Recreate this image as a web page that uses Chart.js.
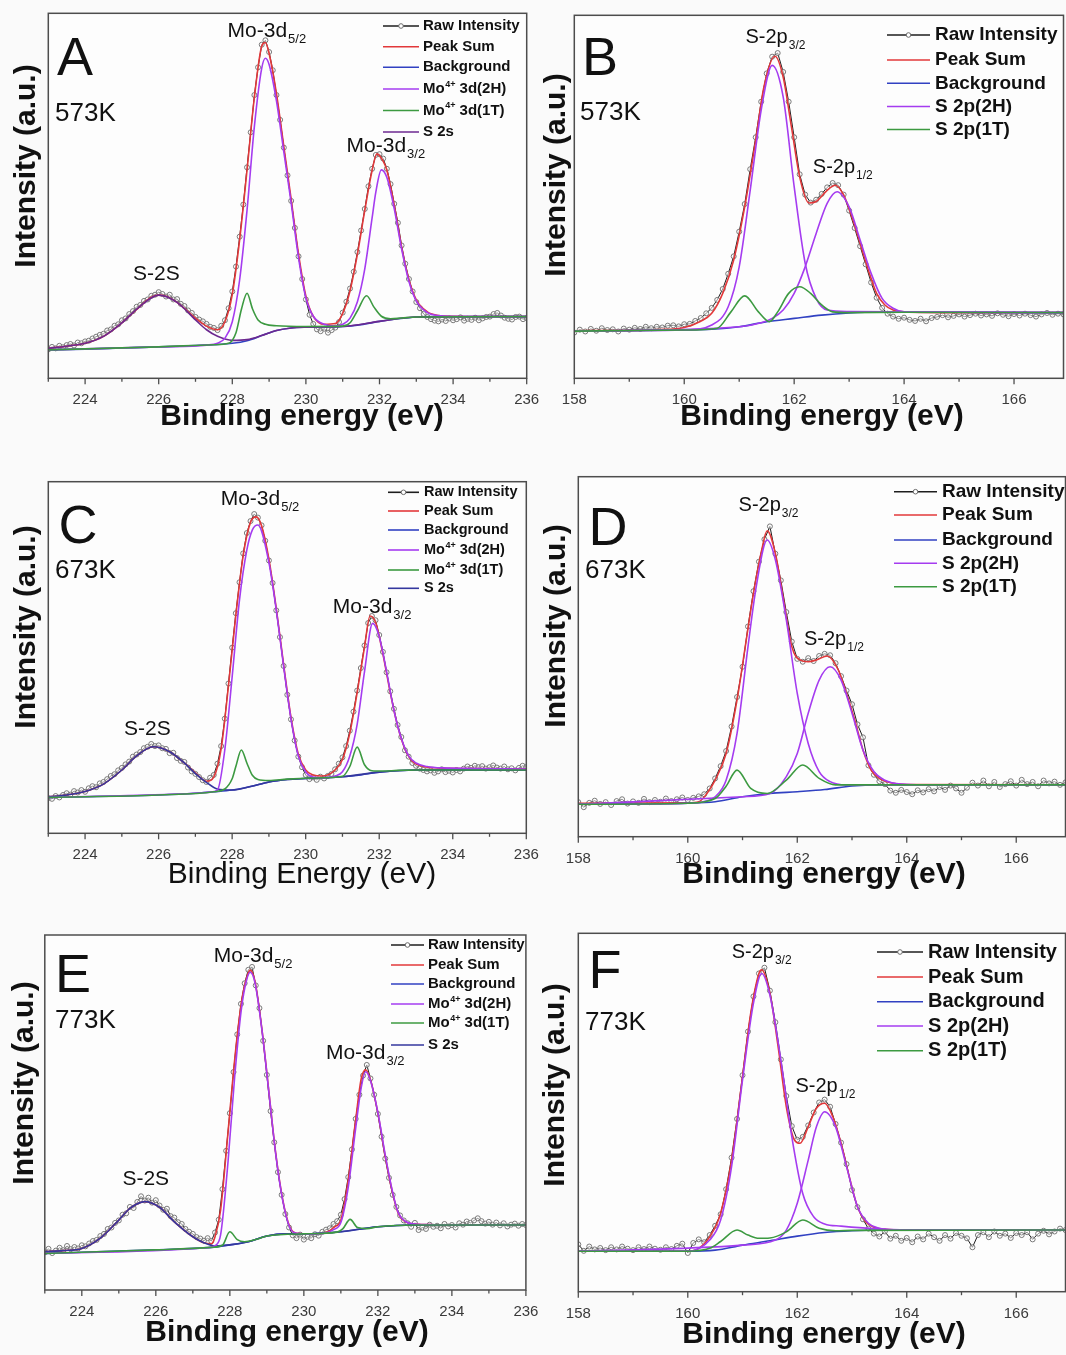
<!DOCTYPE html>
<html><head><meta charset="utf-8">
<script src="https://cdn.jsdelivr.net/npm/chart.js@4.4.1/dist/chart.umd.min.js"></script>
<style>
html,body{margin:0;padding:0;background:#fafafa;width:1066px;height:1355px;overflow:hidden;position:relative}
canvas{position:absolute}
</style></head><body>
<canvas id="cA"></canvas><canvas id="cB"></canvas><canvas id="cC"></canvas>
<canvas id="cD"></canvas><canvas id="cE"></canvas><canvas id="cF"></canvas>
<script>
// ===================== DATA (intensity in a.u., energy in eV) =====================
// ---- Panel A : Mo 3d, 573K ----
const rawStartA = 223, rawStepA = 0.1;
const rawA = [7.9,8.6,8.2,8.9,8.5,9.1,9.4,9.0,9.8,9.6,
 10.1,10.3,10.9,11.4,11.9,12.2,13.1,13.4,14.4,14.8,
 15.9,16.4,17.6,18.4,19.6,20.1,21.2,21.6,22.6,22.9,
 23.6,23.1,22.4,22.9,21.6,21.7,20.4,19.8,18.6,17.9,
 16.8,16.1,15.6,14.9,14.1,13.8,13.2,14.4,15.9,19.2,
 23.8,30.6,38.8,47.6,57.8,67.4,77.6,85.2,91.4,92.6,
 89.4,84.4,77.6,70.8,63.2,55.6,48.6,41.2,33.4,27.2,
 21.6,17.4,14.9,13.4,12.9,13.6,12.5,13.2,13.9,15.4,
 18.0,21.0,24.6,29.2,34.6,40.5,46.4,52.6,57.4,61.2,
 61.4,60.2,57.4,53.2,47.8,42.6,36.4,31.4,27.2,23.8,
 20.9,19.2,17.6,16.8,16.2,15.8,15.6,16.1,15.7,16.4,
 15.9,16.2,16.7,15.8,16.3,16.0,16.6,15.9,16.4,16.8,
 16.9,17.6,17.9,17.2,16.6,16.3,16.1,16.8,16.9,16.2,
 16.5];
const sumA = [[223,8.2],[223.5,8.8],[224,9.6],[224.5,11.5],[225,15.2],[225.5,19.8],[225.8,22.2],[226,22.8],[226.2,22.5],[226.5,20.8],[227,16.5],[227.3,14.3],[227.6,13.3],[227.8,15.5],[228,23],[228.2,38],[228.4,57],[228.6,77],[228.8,91],[228.9,92],[229,89],[229.2,78],[229.4,63.5],[229.6,49],[229.8,34],[230,22.5],[230.2,17],[230.5,14.8],[230.8,15],[231,17.8],[231.2,24],[231.4,34],[231.6,46],[231.8,57],[231.93,61.5],[232.1,59.5],[232.2,57],[232.4,47.5],[232.6,36],[232.8,27],[233,21.5],[233.3,18.2],[233.6,17.2],[234,17],[236,16.9]];
const bgA = [[223,7.8],[224,8.0],[225,8.3],[226,8.6],[227,9.0],[228,9.6],[228.4,10.3],[228.8,11.7],[229.2,13.1],[229.6,13.8],[230,14.0],[231,14.2],[231.5,14.7],[232,15.6],[232.5,16.3],[233,16.8],[233.5,16.9],[236,16.9]];
const h2A = [[223,7.8],[226,8.6],[227.3,9.1],[227.6,9.6],[227.8,11],[228,15.5],[228.2,27],[228.4,46],[228.6,69],[228.8,85],[228.9,87.7],[229,86],[229.2,76],[229.4,62],[229.6,48],[229.8,33],[230,22],[230.2,17],[230.5,14.8],[230.8,14.3],[231,14.8],[231.2,16.5],[231.4,21],[231.6,30],[231.8,44],[231.9,51],[232.05,57.1],[232.2,55],[232.4,46.5],[232.6,35.5],[232.8,26.5],[233,21.2],[233.3,18],[233.6,17.2],[234,16.9],[236,16.9]];
const t1A = [[223,7.8],[226,8.6],[227.5,9.2],[227.9,9.6],[228.1,12.5],[228.25,19],[228.4,23.3],[228.55,19],[228.7,16],[228.9,14.8],[229.2,14.4],[230,14.2],[231,14.3],[231.2,15.2],[231.4,18.5],[231.65,22.6],[231.85,19.5],[232.05,17],[232.3,16.3],[232.6,16.5],[233,16.8],[236,16.9]];
const s2sA = [[223,8.2],[223.5,8.8],[224,9.6],[224.5,11.5],[225,15.2],[225.5,19.8],[226,22.8],[226.5,20.8],[227,16],[227.3,13.3],[227.6,11.5],[228,10.4],[228.4,10.6],[228.8,11.7],[229.2,13.1],[229.6,13.8],[230,14],[231,14.2],[232,15.6],[233,16.8],[236,16.9]];

// ---- Panel B : S 2p, 573K ----
const rawStartB = 158, rawStepB = 0.1;
const rawB = [12.6,13.4,12.9,13.6,13.1,13.8,13.3,13.5,12.9,13.7,
 13.4,13.9,13.6,14.2,13.8,14.2,14.0,14.5,14.6,14.3,
 14.9,15.0,15.8,16.6,17.9,19.4,21.6,24.6,28.8,33.6,
 40.4,48.0,57.6,66.4,76.2,84.0,88.6,89.6,84.4,76.2,
 66.4,56.2,50.6,48.4,49.2,50.8,52.6,53.8,53.2,50.6,
 46.2,41.4,36.4,31.4,26.4,22.2,19.4,17.8,17.0,16.4,
 16.7,16.1,15.8,16.4,15.7,16.6,16.9,17.4,16.8,17.2,
 17.6,17.0,17.4,17.8,17.3,17.6,17.2,17.9,17.5,17.1,
 17.7,17.3,17.8,17.4,17.0,17.6,18.0,17.5,17.8,17.6,
 17.9];
const sumB = [[158,13.1],[159,13.2],[159.5,13.4],[160,14.0],[160.3,15.7],[160.5,17.9],[160.7,23.4],[160.9,32.6],[161.1,47.2],[161.3,65.6],[161.45,80.3],[161.65,88.7],[161.8,83],[161.95,69.3],[162.1,55.5],[162.27,48.3],[162.4,48.7],[162.6,51.8],[162.75,53.2],[162.9,50.5],[163.05,44.5],[163.2,37.2],[163.35,29.8],[163.5,23.4],[163.65,20.2],[163.8,18.8],[164,18.3],[165,18.1],[166.9,18.1]];
const bgB = [[158,13.0],[160,13.3],[160.5,13.5],[161,14.2],[161.5,15.6],[162,16.5],[162.5,17.4],[163,18.0],[163.5,18.3],[164,18.2],[166.9,18.1]];
const h2aB = [[158,13.0],[160,13.3],[160.5,14.7],[160.8,19.7],[161,30.7],[161.2,51.8],[161.4,73.9],[161.6,86.2],[161.8,77.5],[162,52.8],[162.2,31.7],[162.4,22],[162.6,18.8],[163,18.4],[164,18.3],[166.9,18.1]];
const h2bB = [[158,13.0],[161,14.2],[161.4,15.3],[161.6,16.5],[161.8,18.8],[162,23.4],[162.2,30.7],[162.4,39.9],[162.6,48.2],[162.78,51.4],[163,47.2],[163.2,38.1],[163.4,28.9],[163.6,22],[163.8,19.3],[164,18.3],[166.9,18.1]];
const t1B = [[158,13.0],[160,13.3],[160.6,13.8],[160.85,18.3],[161.1,22.7],[161.35,18.3],[161.55,15.6],[161.7,18.3],[161.9,23.4],[162.1,25.2],[162.3,23.4],[162.5,20.2],[162.7,18.3],[163,18.1],[164,18.2],[166.9,18.1]];

// ---- Panel C : Mo 3d, 673K ----
const rawStartC = 223, rawStepC = 0.1;
const rawC = [10.0,9.8,10.6,10.2,10.9,11.4,11.0,12.0,11.6,12.3,
 11.8,12.8,13.4,13.1,14.2,14.6,15.4,16.3,16.8,17.9,
 18.6,19.6,20.4,21.8,22.4,23.1,24.2,24.6,25.4,24.8,
 25.0,24.2,24.0,22.8,22.9,21.4,20.6,20.3,18.7,17.6,
 16.9,16.0,15.1,14.6,15.8,16.6,19.8,24.8,32.6,42.6,
 52.8,62.6,71.4,79.6,85.4,88.8,90.8,89.8,87.6,83.2,
 77.6,71.2,63.4,55.8,47.6,39.4,32.4,26.4,21.8,18.8,
 16.6,15.4,15.9,15.2,16.1,15.6,16.3,16.9,18.2,19.8,
 21.6,24.8,29.2,34.6,40.6,47.0,53.4,59.8,61.8,60.6,
 56.4,51.6,45.8,40.4,35.4,30.8,27.4,23.6,21.8,20.0,
 19.2,18.4,18.0,17.6,17.9,17.2,17.6,18.2,17.4,17.8,
 17.3,18.0,17.6,18.4,19.0,18.6,19.2,18.8,19.1,18.4,
 18.8,19.3,18.7,18.4,19.0,18.2,18.5,17.9,18.6,19.2,
 18.8];
const sumC = [[223,10.4],[223.5,10.9],[224,11.9],[224.5,14],[225,18],[225.4,22],[225.85,24.6],[226.3,23.2],[226.7,20],[227,17.2],[227.3,14.8],[227.5,16],[227.7,24],[227.9,42],[228.1,62],[228.3,79],[228.5,88.5],[228.65,90],[228.8,87.5],[229,78],[229.2,64],[229.4,48],[229.6,33],[229.8,22.5],[230,18],[230.2,16.6],[230.45,16.3],[230.8,18],[231,21],[231.2,28.5],[231.4,40],[231.6,53],[231.75,61.8],[231.9,60],[232.1,51],[232.3,40],[232.5,30.5],[232.7,24],[232.9,20.5],[233.2,19],[233.6,18.6],[234.5,18.4],[236,18.3]];
const bgC = [[223,10.2],[224,10.4],[225,10.6],[226,10.9],[227,11.4],[227.5,11.8],[228,12.3],[228.5,13.3],[229,14.6],[229.5,15.3],[230,15.6],[231,16.1],[231.5,16.6],[232,17.4],[232.5,17.8],[233,18.0],[236,18.0]];
const h2C = [[223,10.2],[227,11.4],[227.4,11.7],[227.6,12.3],[227.8,23.7],[228,44.5],[228.2,66.4],[228.4,80.6],[228.55,86.3],[228.7,87.7],[229,77],[229.2,63.5],[229.4,47.5],[229.6,32.5],[229.8,22],[230,17.5],[230.2,16],[230.5,15.8],[230.8,16.3],[231,17.5],[231.2,22],[231.4,31],[231.6,46],[231.82,59.7],[232,56],[232.2,46],[232.4,35],[232.6,27],[232.8,22],[233,20],[233.3,19],[233.7,18.6],[236,18.3]];
const t1C = [[223,10.2],[226,10.9],[227.5,11.8],[227.8,12.6],[228,15.5],[228.1,19],[228.25,23.7],[228.4,20],[228.55,16.5],[228.7,15.3],[229,15],[229.5,15.4],[230.5,15.8],[231,16.2],[231.2,19],[231.4,24.5],[231.6,19.5],[231.8,17.8],[232.1,17.7],[232.5,17.9],[233,18],[236,18]];
const s2sC = [[223,10.4],[223.5,10.9],[224,11.9],[224.5,14],[225,18],[225.4,22],[225.85,24.6],[226.3,23.2],[226.7,20],[227,17],[227.3,14.5],[227.6,12.6],[228,12.3],[228.5,13.3],[229,14.6],[229.5,15.3],[230,15.6],[231,16.1],[232,17.4],[233,18],[236,18]];

// ---- Panel D : S 2p, 673K ----
const rawStartD = 158, rawStepD = 0.1;
const rawD = [9.6,8.2,9.4,10.0,9.1,9.6,8.8,9.9,10.4,9.2,
 9.8,9.4,10.5,9.6,10.2,9.7,10.6,9.9,10.4,10.9,
 10.2,10.8,11.2,11.8,13.4,16.2,19.6,23.8,30.6,38.8,
 47.2,58.4,68.2,76.4,82.6,86.2,78.6,71.2,62.4,54.2,
 49.4,48.6,49.6,48.8,50.2,50.8,50.4,48.2,44.6,40.6,
 36.8,31.2,27.6,19.8,17.2,15.4,14.6,12.8,12.2,13.0,
 12.4,11.8,12.9,12.3,13.2,12.6,13.8,13.0,14.2,13.4,
 12.2,13.6,15.0,14.2,15.6,14.0,15.2,13.8,14.6,15.4,
 14.2,15.8,14.6,15.2,14.0,15.6,14.8,15.3,14.4,15.1,
 14.6];
const sumD = [[158,9.3],[160,9.4],[160.2,9.7],[160.35,12],[160.5,15.7],[160.7,23.1],[160.9,38],[161.05,52.8],[161.2,67.6],[161.35,79.6],[161.45,85],[161.6,78.7],[161.75,65.7],[161.9,52.8],[162.05,49.1],[162.2,48.6],[162.35,49.1],[162.55,50.2],[162.75,46.3],[162.9,39.8],[163.05,32.4],[163.2,24.1],[163.35,18.5],[163.5,16.2],[163.7,15],[164,14.5],[166.9,14.4]];
const bgD = [[158,9.0],[160,9.3],[160.5,9.7],[161,11.1],[161.5,12.0],[162,12.5],[162.5,13.1],[163,14.1],[163.5,14.4],[166.9,14.4]];
const h2aD = [[158,9.0],[160,9.3],[160.3,9.8],[160.5,11.1],[160.7,15.7],[160.9,28.7],[161.1,52.8],[161.25,69.4],[161.45,82.4],[161.6,76.9],[161.8,60.2],[162,39.8],[162.2,25.9],[162.4,18.1],[162.6,15.3],[162.9,14.4],[166.9,14.4]];
const h2bD = [[158,9.0],[161,11.1],[161.5,12],[161.8,16.7],[162,23.1],[162.2,34.3],[162.4,43.5],[162.6,47.2],[162.8,43.5],[163,34.3],[163.2,24.1],[163.4,18.1],[163.6,15.7],[163.9,14.6],[164.3,14.4],[166.9,14.4]];
const t1D = [[158,9.0],[160,9.3],[160.5,10.6],[160.7,14],[160.9,18.5],[161.15,13.4],[161.45,12],[161.8,15.7],[162.1,19.9],[162.4,16.2],[162.7,14.4],[166.9,14.4]];

// ---- Panel E : Mo 3d, 773K ----
const rawStartE = 223, rawStepE = 0.1;
const rawE = [10.6,11.6,10.4,11.1,11.9,11.2,12.4,11.5,12.1,11.7,
 12.6,12.3,13.1,13.8,14.1,15.2,15.8,17.2,17.6,18.9,
 19.6,21.2,21.6,23.4,23.1,24.8,26.4,25.2,26.0,24.6,
 25.3,23.8,22.6,22.9,20.8,20.4,19.1,18.6,17.2,16.4,
 15.8,14.9,14.5,13.9,14.6,13.8,16.2,19.8,28.4,39.2,
 49.8,61.4,72.0,80.6,86.4,90.2,91.0,85.8,79.4,70.2,
 60.6,50.4,41.6,33.2,26.8,21.4,17.6,15.4,14.6,15.6,
 14.2,15.0,14.6,15.7,15.3,16.4,17.0,17.4,18.6,19.4,
 21.2,25.6,31.8,39.6,48.2,55.0,60.4,63.4,59.6,55.0,
 49.6,43.2,37.0,31.6,26.8,23.4,21.0,19.6,18.8,17.8,
 18.9,16.9,17.6,17.2,18.4,17.8,18.1,17.4,18.6,17.9,
 18.3,17.6,18.8,18.4,19.3,18.9,19.6,20.2,19.4,18.7,
 19.2,18.4,19.0,18.2,18.8,17.9,18.4,18.7,18.1,18.6,
 18.3];
const sumE = [[223,10.8],[223.5,11.1],[224,11.7],[224.5,14.6],[225,19.7],[225.3,23],[225.7,24.9],[226.1,23.3],[226.5,19.2],[227,15],[227.3,13.3],[227.5,13.0],[227.6,15],[227.75,22.5],[227.94,43.2],[228.13,64.8],[228.31,80.8],[228.45,87.8],[228.55,90.1],[228.68,86.9],[228.87,73.2],[229.06,55.4],[229.24,38.5],[229.43,25.4],[229.62,17.8],[229.8,16],[230.2,15.8],[230.64,16.4],[230.83,17.8],[231,19.7],[231.2,31],[231.4,47.9],[231.55,59.5],[231.67,62],[231.8,59.2],[232,49.8],[232.2,37.6],[232.4,27.2],[232.55,21.6],[232.75,19.2],[233,18.6],[233.5,18.4],[236,18.3]];
const bgE = [[223,10.3],[226,11.3],[227.5,12.0],[228,12.7],[228.5,13.6],[229,15.2],[229.5,15.8],[230,15.8],[231,16.4],[231.5,17.1],[232,17.8],[233,18.3],[236,18.3]];
const h2E = [[223,10.3],[227.4,11.9],[227.6,12.5],[227.75,15.5],[227.95,36],[228.13,60],[228.31,79],[228.45,87.2],[228.55,89.5],[228.68,86.5],[228.87,73],[229.06,55.2],[229.24,38.3],[229.43,25.2],[229.62,17.6],[229.8,16],[230.2,15.8],[230.6,16.1],[230.8,17],[231,19],[231.2,29],[231.4,45.5],[231.55,57],[231.67,61.5],[231.8,59],[232,50],[232.2,38],[232.4,27.5],[232.55,21.8],[232.75,19.3],[233,18.6],[233.5,18.4],[236,18.3]];
const t1E = [[223,10.3],[226,11.3],[227.5,12.0],[227.8,12.6],[228,16.4],[228.2,14.2],[228.4,13.6],[228.7,14.2],[229,15.2],[230,15.8],[230.9,16.3],[231.05,17.2],[231.25,19.9],[231.45,17.6],[231.7,17.3],[232,17.8],[233,18.3],[236,18.3]];
const s2sE = [[223,10.8],[223.5,11.1],[224,11.7],[224.5,14.6],[225,19.7],[225.3,23],[225.7,24.9],[226.1,23.3],[226.5,19.2],[227,15],[227.3,13.3],[227.6,12.4],[228,12.7],[228.5,13.6],[229,15.2],[229.5,15.8],[230,15.8],[231,16.4],[232,17.8],[233,18.3],[236,18.3]];

// ---- Panel F : S 2p, 773K ----
const rawStartF = 158, rawStepF = 0.1;
const rawF = [13.2,11.4,12.6,11.8,12.2,11.6,12.4,11.8,12.6,12.0,
 11.6,12.4,11.9,12.6,12.0,11.7,12.4,11.9,12.8,13.4,
 10.8,13.6,14.6,13.8,15.8,18.4,21.6,28.6,37.4,48.2,
 60.4,72.6,82.4,88.8,90.4,84.0,75.2,64.8,54.6,46.2,
 42.4,43.2,46.4,50.0,52.8,53.6,51.6,46.8,41.6,35.6,
 28.4,23.6,20.2,17.6,16.2,15.4,16.8,14.8,15.6,14.2,
 15.0,13.8,15.4,14.6,16.2,15.2,14.2,15.8,14.8,16.4,
 15.6,14.9,12.4,15.8,16.6,15.2,16.8,15.6,16.2,15.0,
 16.4,15.8,16.6,14.6,16.2,17.0,16.0,16.8,17.6,17.2,
 17.0];
const sumF = [[158,11.3],[160,11.3],[160.2,12.1],[160.4,15.3],[160.6,21.9],[160.8,36.7],[161,60],[161.15,77.7],[161.3,88.8],[161.35,89.8],[161.5,83.3],[161.65,68.4],[161.8,51.6],[161.95,42.3],[162.05,41.4],[162.2,46],[162.35,51.2],[162.5,52.6],[162.65,48.8],[162.8,41.4],[162.95,32.1],[163.1,23.7],[163.25,19.5],[163.4,18],[163.6,17.4],[164,17.2],[166.9,17.2]];
const bgF = [[158,11.3],[160,11.3],[160.5,11.6],[161,13],[161.5,14.2],[162,15.5],[162.5,16.5],[163,17],[163.5,17.2],[166.9,17.2]];
const h2aF = [[158,11.3],[160,11.3],[160.4,14.4],[160.6,20],[160.8,34.9],[161,59.1],[161.2,80.5],[161.35,88.8],[161.5,82.8],[161.7,64.7],[161.9,43.3],[162.1,27.4],[162.3,20.9],[162.5,18.9],[162.8,18.3],[163.2,17.8],[164,17.2],[166.9,17.2]];
const h2bF = [[158,11.3],[161,13],[161.6,14.4],[161.8,17.2],[162,24.7],[162.2,36.7],[162.35,46],[162.5,50.2],[162.7,46],[162.9,34.9],[163.1,23.7],[163.3,19.1],[163.5,17.7],[163.8,17.2],[166.9,17.2]];
const t1F = [[158,11.3],[160,11.3],[160.4,12.1],[160.6,14],[160.9,17.2],[161.1,15.8],[161.3,14.9],[161.5,15.0],[161.8,16.7],[162.1,20],[162.4,17.7],[162.7,17],[163,17.1],[166.9,17.2]];

// ---- Text ----
const MO_ITEMS = [['raw','Raw Intensity'],['sum','Peak Sum'],['bg','Background'],['h2','Mo','4+',' 3d(2H)'],['t1','Mo','4+',' 3d(1T)'],['s2s','S 2s']];
const S_ITEMS = [['raw','Raw Intensity'],['sum','Peak Sum'],['bg','Background'],['h2','S 2p(2H)'],['t1','S 2p(1T)']];

// ===================== STYLE / LAYOUT =====================
const FF = '"Liberation Sans", Arial, Helvetica, sans-serif';
const COL = {raw:'#1e1e1e', rawPt:'#6c6c6c', sum:'#e2383a', bg:'#3141c2', h2:'#a53cf0', t1:'#3c9a41'};

const panels = [
 {id:'cA', cv:[0,0,545,450], box:[48.3,13.3,526.7,378.3], xr:[223,236],
  raw:[rawStartA,rawStepA,rawA], sum:sumA, bg:bgA, h2:[h2A], t1:t1A, s2s:s2sA, s2sCol:'#6c2990',
  letter:['A',57,75], temp:['573K',55,121],
  peaks:[['Mo-3d','5/2',227.6,36.7,21],['Mo-3d','3/2',346.6,151.7,21],['S-2S','',133,280,21]],
  legend:{x0:383,x1:419,tx:423,font:15,rows:[26,46.7,67.3,89,110.5,132],items:MO_ITEMS},
  xTitle:['Binding energy (eV)',302,417,true], yTitle:[27,166]},
 {id:'cB', cv:[533,0,533,450], box:[574.3,15.3,1063.5,378.3], xr:[158,166.9],
  raw:[rawStartB,rawStepB,rawB], sum:sumB, bg:bgB, h2:[h2aB,h2bB], t1:t1B,
  letter:['B',582,75], temp:['573K',580,120],
  peaks:[['S-2p','3/2',745.5,43,20],['S-2p','1/2',812.8,173,20]],
  legend:{x0:887,x1:930,tx:935,font:19,rows:[35,60,83.3,106.5,129.5],items:S_ITEMS},
  xTitle:['Binding energy (eV)',822,417,true], yTitle:[557,175]},
 {id:'cC', cv:[0,455,545,450], box:[48.3,481.7,526.3,833.3], xr:[223,236],
  raw:[rawStartC,rawStepC,rawC], sum:sumC, bg:bgC, h2:[h2C], t1:t1C, s2s:s2sC, s2sCol:'#34379e',
  letter:['C',58.6,543], temp:['673K',55,578],
  peaks:[['Mo-3d','5/2',220.7,505,21],['Mo-3d','3/2',332.8,613,21],['S-2S','',124,735,21]],
  legend:{x0:388,x1:419,tx:424,font:14.5,rows:[492.3,511,530,550,570,588.3],items:MO_ITEMS},
  xTitle:['Binding Energy (eV)',302,875,false], yTitle:[27,627]},
 {id:'cD', cv:[533,455,533,450], box:[578.3,476.7,1065.5,836.7], xr:[158,166.9],
  raw:[rawStartD,rawStepD,rawD], sum:sumD, bg:bgD, h2:[h2aD,h2bD], t1:t1D,
  letter:['D',588.6,545], temp:['673K',585,578],
  peaks:[['S-2p','3/2',738.6,511,20],['S-2p','1/2',804,645,20]],
  legend:{x0:894,x1:937,tx:942,font:19,rows:[491.7,515,540,563.3,586.7],items:S_ITEMS},
  xTitle:['Binding energy (eV)',824,875,true], yTitle:[557,626]},
 {id:'cE', cv:[0,915,545,440], box:[44.8,935,525.9,1290], xr:[223,236],
  raw:[rawStartE,rawStepE,rawE], sum:sumE, bg:bgE, h2:[h2E], t1:t1E, s2s:s2sE, s2sCol:'#34379e',
  letter:['E',55,992], temp:['773K',55,1028],
  peaks:[['Mo-3d','5/2',213.8,962,21],['Mo-3d','3/2',325.9,1059,21],['S-2S','',122.4,1185,21]],
  legend:{x0:391,x1:424,tx:428,font:15,rows:[945,965,984,1004,1023,1045],items:MO_ITEMS},
  xTitle:['Binding energy (eV)',287,1333,true], yTitle:[25,1083]},
 {id:'cF', cv:[533,915,533,440], box:[578.3,933.3,1065.5,1291.7], xr:[158,166.9],
  raw:[rawStartF,rawStepF,rawF], sum:sumF, bg:bgF, h2:[h2aF,h2bF], t1:t1F,
  letter:['F',588.6,988], temp:['773K',585,1030],
  peaks:[['S-2p','3/2',731.7,958,20],['S-2p','1/2',795.5,1092,20]],
  legend:{x0:877,x1:923,tx:928,font:20,rows:[952,977,1001.7,1026,1050.7],items:S_ITEMS},
  xTitle:['Binding energy (eV)',824,1335,true], yTitle:[556,1085]}
];

const toPts = a => a.map(p => ({x:p[0], y:p[1]}));
const rawPts = (start, step, vals) => vals.map((v,i) => ({x:+(start+i*step).toFixed(2), y:v}));

function fitDs(arr, color){
  return {data:toPts(arr), borderColor:color, borderWidth:1.6, pointRadius:0, pointHoverRadius:0,
          cubicInterpolationMode:'monotone', fill:false};
}

function makeDecor(p){
  const ox = p.cv[0], oy = p.cv[1];
  return {
    id:'decor',
    beforeDatasetsDraw(chart){
      const c = chart.ctx, a = chart.chartArea;
      c.save(); c.fillStyle = '#fdfdfd'; c.fillRect(a.left, a.top, a.right-a.left, a.bottom-a.top); c.restore();
    },
    afterDraw(chart){
      const c = chart.ctx, a = chart.chartArea, xs = chart.scales.x;
      c.save();
      // plot frame
      c.strokeStyle = '#4d4d4d'; c.lineWidth = 1.5;
      c.strokeRect(a.left, a.top, a.right-a.left, a.bottom-a.top);
      // major / minor tick marks (outward)
      c.lineWidth = 1.3;
      for (let v = Math.ceil(p.xr[0]); v <= Math.floor(p.xr[1]); v++){
        const px = xs.getPixelForValue(v);
        const len = v % 2 === 0 ? 6 : 3.5;
        c.beginPath(); c.moveTo(px, a.bottom); c.lineTo(px, a.bottom+len); c.stroke();
      }
      c.translate(-ox, -oy); // page coordinates from here on
      c.fillStyle = '#111';
      // panel letter and temperature
      c.textAlign = 'left'; c.textBaseline = 'alphabetic';
      c.font = `54px ${FF}`; c.fillText(p.letter[0], p.letter[1], p.letter[2]);
      c.font = `26px ${FF}`; c.fillText(p.temp[0], p.temp[1], p.temp[2]);
      // peak labels
      p.peaks.forEach(k => {
        c.font = `${k[4]}px ${FF}`;
        c.fillText(k[0], k[2], k[3]);
        if (k[1]){
          const w = c.measureText(k[0]).width;
          c.font = `${Math.round(k[4]*0.6)}px ${FF}`;
          c.fillText(k[1], k[2]+w+1, k[3]+k[4]*0.28);
        }
      });
      // legend
      const L = p.legend;
      L.items.forEach((it, i) => {
        const y = L.rows[i];
        const col = it[0]==='s2s' ? p.s2sCol : COL[it[0]];
        c.strokeStyle = col; c.lineWidth = 1.6;
        c.beginPath(); c.moveTo(L.x0, y); c.lineTo(L.x1, y); c.stroke();
        if (it[0]==='raw'){
          c.beginPath(); c.arc((L.x0+L.x1)/2, y, 2.3, 0, Math.PI*2);
          c.fillStyle = '#fff'; c.fill(); c.strokeStyle = COL.rawPt; c.lineWidth = 1; c.stroke();
        }
        c.fillStyle = '#111'; c.textBaseline = 'middle'; c.textAlign = 'left';
        c.font = `bold ${L.font}px ${FF}`;
        let x = L.tx;
        c.fillText(it[1], x, y); x += c.measureText(it[1]).width;
        if (it[2]){
          c.font = `bold ${Math.round(L.font*0.6)}px ${FF}`;
          c.fillText(it[2], x+0.5, y - L.font*0.32); x += c.measureText(it[2]).width + 0.5;
          c.font = `bold ${L.font}px ${FF}`;
          c.fillText(it[3], x, y);
        }
      });
      // axis titles
      c.textAlign = 'center'; c.textBaseline = 'middle';
      c.font = `${p.xTitle[3] ? 'bold ' : ''}30px ${FF}`;
      c.fillText(p.xTitle[0], p.xTitle[1], p.xTitle[2]);
      c.save();
      c.translate(p.yTitle[0], p.yTitle[1]); c.rotate(-Math.PI/2);
      c.font = `bold 30px ${FF}`;
      c.fillText('Intensity (a.u.)', 0, 0);
      c.restore();
      c.restore();
    }
  };
}

panels.forEach(p => {
  const cv = document.getElementById(p.id);
  const [cx, cy, cw, ch] = p.cv;
  cv.width = cw; cv.height = ch;
  cv.style.left = cx+'px'; cv.style.top = cy+'px';
  cv.style.width = cw+'px'; cv.style.height = ch+'px';
  const [bl, bt, br, bb] = p.box;
  const PL = bl - cx, PT = bt - cy, PR = (cx+cw) - br, AXH = (cy+ch) - bb;

  const datasets = [];
  datasets.push(fitDs(p.t1, COL.t1));
  p.h2.forEach(a => datasets.push(fitDs(a, COL.h2)));
  if (p.s2s) datasets.push(fitDs(p.s2s, p.s2sCol));
  datasets.push(fitDs(p.bg, COL.bg));
  datasets.push(fitDs(p.sum, COL.sum));
  datasets.push({data:rawPts(p.raw[0], p.raw[1], p.raw[2]), borderColor:COL.raw, borderWidth:1,
    pointRadius:2.5, pointHoverRadius:2.5, pointBorderColor:COL.rawPt, pointBackgroundColor:'rgba(255,255,255,0.5)',
    pointBorderWidth:0.9, tension:0, fill:false});

  new Chart(cv, {
    type:'line',
    data:{datasets},
    options:{
      responsive:false, animation:false, devicePixelRatio:1, events:[],
      layout:{autoPadding:false, padding:{left:PL, top:PT, right:PR, bottom:0}},
      plugins:{legend:{display:false}, tooltip:{enabled:false}},
      scales:{
        x:{type:'linear', min:p.xr[0], max:p.xr[1],
           border:{display:false}, grid:{display:false, drawTicks:false},
           afterBuildTicks(s){
             const t = [];
             for (let v = Math.ceil(p.xr[0]); v <= Math.floor(p.xr[1]); v++) if (v % 2 === 0) t.push({value:v});
             s.ticks = t;
           },
           ticks:{autoSkip:false, maxRotation:0, padding:13, color:'#3a3a3a',
                  font:{family:FF, size:15},
                  callback:v => String(v)},
           afterFit(s){ s.height = AXH; s.paddingLeft = 0; s.paddingRight = 0; s.paddingTop = 0; s.paddingBottom = 0; }},
        y:{display:false, min:0, max:100}
      }
    },
    plugins:[makeDecor(p)]
  });
});
</script>
</body></html>
